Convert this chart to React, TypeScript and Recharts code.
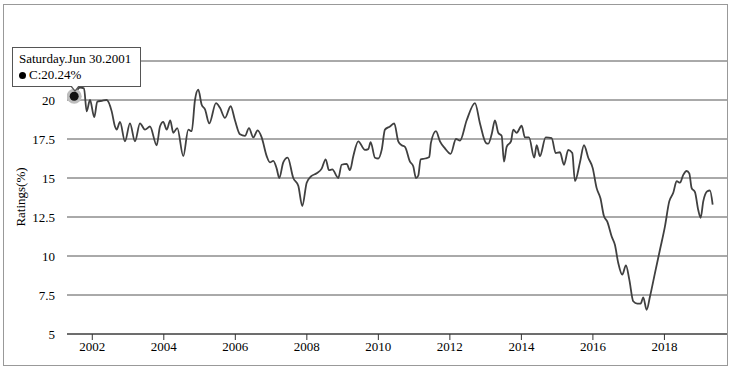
import React from 'react';
import {
  LineChart, Line, XAxis, YAxis, CartesianGrid, Tooltip,
} from 'recharts';

// decimal year of each sample
const years = [
  2001.494, 2001.656, 2001.768, 2001.843, 2001.936, 2002.056, 2002.140, 2002.271, 2002.403, 2002.543,
  2002.635, 2002.682, 2002.775, 2002.914, 2003.054, 2003.194, 2003.334, 2003.474, 2003.614, 2003.801,
  2003.893, 2003.985, 2004.081, 2004.181, 2004.265, 2004.377, 2004.545, 2004.685, 2004.780, 2004.872,
  2004.964, 2005.059, 2005.152, 2005.272, 2005.459, 2005.571, 2005.711, 2005.870, 2005.990, 2006.130,
  2006.270, 2006.382, 2006.502, 2006.625, 2006.737, 2006.877, 2006.969, 2007.062, 2007.157, 2007.229,
  2007.341, 2007.464, 2007.621, 2007.761, 2007.872, 2007.996, 2008.116, 2008.275, 2008.415, 2008.527,
  2008.619, 2008.711, 2008.879, 2008.974, 2009.114, 2009.206, 2009.299, 2009.438, 2009.626, 2009.718,
  2009.785, 2009.905, 2009.998, 2010.093, 2010.185, 2010.325, 2010.445, 2010.557, 2010.652, 2010.744,
  2010.884, 2010.976, 2011.052, 2011.116, 2011.183, 2011.304, 2011.424, 2011.470, 2011.611, 2011.723,
  2011.863, 2012.022, 2012.171, 2012.283, 2012.470, 2012.702, 2012.842, 2013.010, 2013.074, 2013.169,
  2013.261, 2013.353, 2013.449, 2013.513, 2013.588, 2013.709, 2013.773, 2013.868, 2014.008, 2014.100,
  2014.212, 2014.360, 2014.427, 2014.519, 2014.679, 2014.847, 2014.959, 2015.079, 2015.191, 2015.311,
  2015.423, 2015.498, 2015.638, 2015.750, 2015.870, 2015.993, 2016.105, 2016.211, 2016.304, 2016.402,
  2016.525, 2016.617, 2016.709, 2016.821, 2016.924, 2017.017, 2017.128, 2017.240, 2017.336, 2017.408,
  2017.503, 2017.596, 2017.735, 2017.875, 2018.015, 2018.135, 2018.247, 2018.342, 2018.435, 2018.527,
  2018.622, 2018.695, 2018.762, 2018.854, 2018.946, 2019.013, 2019.086, 2019.198, 2019.273, 2019.349,
];

const ratings = [
  20.24, 20.8, 20.75, 19.27, 20.0, 18.9, 19.9, 19.95, 20.0, 19.27,
  18.3, 18.1, 18.6, 17.35, 18.5, 17.35, 18.5, 18.1, 18.3, 17.1,
  18.3, 18.6, 18.1, 18.7, 17.9, 18.2, 16.4, 18.1, 18.0, 20.0,
  20.66, 19.7, 19.4, 18.5, 19.8, 19.5, 18.85, 19.6, 18.7, 17.8,
  17.7, 18.2, 17.6, 18.05, 17.6, 16.4, 16.0, 16.1, 15.6, 15.0,
  16.0, 16.3, 15.0, 14.5, 13.2, 14.7, 15.1, 15.3, 15.6, 16.2,
  15.5, 15.55, 15.0, 15.85, 15.9, 15.5, 16.4, 17.35, 16.8, 16.85,
  17.3, 16.3, 16.25, 16.8, 18.1, 18.3, 18.5, 17.35, 17.1, 17.0,
  16.05, 15.75, 15.0, 15.15, 16.2, 16.25, 16.35, 17.25, 18.0, 17.35,
  16.9, 16.55, 17.5, 17.4, 18.7, 19.8, 18.5, 17.25, 17.2, 17.8,
  18.7, 17.9, 17.7, 16.05, 17.0, 17.35, 18.1, 17.9, 18.35, 17.6,
  17.6, 16.3, 17.1, 16.4, 17.6, 17.55, 16.6, 16.65, 15.85, 16.8,
  16.6, 14.8, 16.0, 17.1, 16.3, 15.65, 14.35, 13.7, 12.6, 12.2,
  11.25, 10.7, 9.55, 8.8, 9.4, 8.5, 7.1, 6.95, 6.95, 7.35,
  6.55, 7.4, 8.9, 10.4, 11.9, 13.5, 14.05, 14.8, 14.7, 15.2,
  15.45, 15.3, 14.35, 14.1, 12.95, 12.45, 13.5, 14.15, 14.2, 13.3,
];

const yearTicks = [2002, 2004, 2006, 2008, 2010, 2012, 2014, 2016, 2018];
const ratingTicks = [5, 7.5, 10, 12.5, 15, 17.5, 20, 22.5];

const data = years.map((year, i) => ({ year, rating: ratings[i] }));

const FONT = '"Liberation Serif", "Times New Roman", serif';
const DAYS = ['Sunday', 'Monday', 'Tuesday', 'Wednesday', 'Thursday', 'Friday', 'Saturday'];
const MONTHS = ['Jan', 'Feb', 'Mar', 'Apr', 'May', 'Jun', 'Jul', 'Aug', 'Sep', 'Oct', 'Nov', 'Dec'];

function fmtDate(yr: number) {
  const y = Math.floor(yr);
  const day = Math.floor((yr - y) * 365);
  const d = new Date(Date.UTC(y, 0, 1 + day));
  return `${DAYS[d.getUTCDay()]}.${MONTHS[d.getUTCMonth()]} ${d.getUTCDate()}.${d.getUTCFullYear()}`;
}

function TipBox({ active, payload }: any) {
  if (!active || !payload || !payload.length) return null;
  const p = payload[0].payload;
  return (
    <div
      style={{
        position: 'relative',
        width: 116,
        background: '#fff',
        border: '1px solid #555',
        padding: '3px 5px 3px 6px',
        fontFamily: FONT,
        fontSize: 13,
        lineHeight: '16px',
        color: '#000',
      }}
    >
      <div>{fmtDate(p.year)}</div>
      <div>
        <span style={{
          display: 'inline-block', width: 7, height: 7, borderRadius: '50%',
          background: '#000', marginRight: 3, verticalAlign: 'middle', position: 'relative', top: -1,
        }} />
        C:{p.rating.toFixed(2)}%
      </div>
      <div style={{
        position: 'absolute', left: 57, bottom: -6, width: 0, height: 0,
        borderLeft: '5px solid transparent', borderRight: '5px solid transparent',
        borderTop: '6px solid #555',
      }} />
      <div style={{
        position: 'absolute', left: 58, bottom: -4, width: 0, height: 0,
        borderLeft: '4px solid transparent', borderRight: '4px solid transparent',
        borderTop: '5px solid #fff',
      }} />
    </div>
  );
}

function renderYLabel() {
  return (
    <text
      x={16}
      y={192}
      transform="rotate(-90 16 192)"
      textAnchor="middle"
      dominantBaseline="central"
      style={{ fontFamily: FONT, fontSize: 13, fill: '#000' }}
    >
      Ratings(%)
    </text>
  );
}

// the 22.5 label sits under the tooltip in the original, so it is left blank
const fmtRating = (v: number) => (v === 22.5 ? '' : String(v));

export default function App() {
  const tick = { fontFamily: FONT, fontSize: 13, fill: '#000' };
  return (
    <div
      style={{
        position: 'absolute', left: 3, top: 4, width: 725, height: 362,
        border: '1px solid #999', boxSizing: 'border-box', background: '#fff',
      }}
    >
      <LineChart
        width={723}
        height={360}
        data={data}
        margin={{ top: 17, right: 0, bottom: 0, left: 0 }}
      >
        <CartesianGrid vertical={false} horizontalValues={ratingTicks} stroke="#555" />
        <XAxis
          dataKey="year"
          type="number"
          domain={[2001.293, 2019.75]}
          ticks={yearTicks}
          tick={tick}
          height={31}
          axisLine={{ stroke: '#333' }}
          tickLine={{ stroke: '#333' }}
          allowDataOverflow
        />
        <YAxis
          domain={[5, 25]}
          ticks={ratingTicks}
          tick={tick}
          tickFormatter={fmtRating}
          width={63}
          axisLine={false}
          tickLine={false}
          tickMargin={6}
          label={renderYLabel}
        />
        <Tooltip
          defaultIndex={0}
          active
          cursor={false}
          position={{ x: 8, y: 42 }}
          content={<TipBox />}
          isAnimationActive={false}
        />
        <Line
          type="monotone"
          dataKey="rating"
          stroke="#404040"
          strokeWidth={1.8}
          dot={false}
          activeDot={(p: any) => (
            <g key="active-dot">
              <circle cx={p.cx} cy={p.cy} r={7.5} fill="#bdbdbd" />
              <circle cx={p.cx} cy={p.cy} r={4.5} fill="#111" />
            </g>
          )}
          isAnimationActive={false}
        />
      </LineChart>
    </div>
  );
}
